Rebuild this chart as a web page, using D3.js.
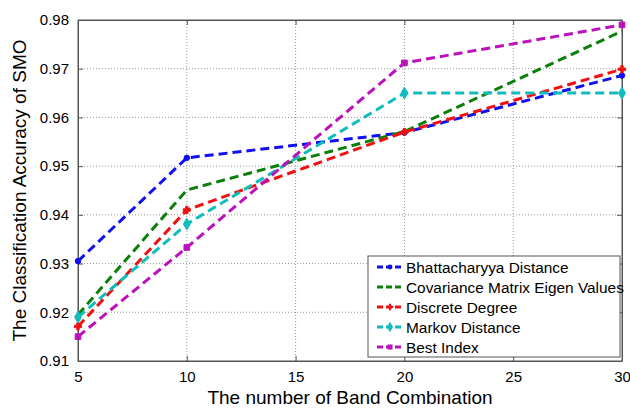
<!DOCTYPE html>
<html>
<head>
<meta charset="utf-8">
<script src="https://cdn.jsdelivr.net/npm/d3@7"></script>
<style>
  body { margin: 0; background: #fff; }
  svg text { font-family: Arial, "Liberation Sans", sans-serif; fill: #000; }
</style>
</head>
<body>
<div id="chart"></div>
<script>
//
// Chart data
//
const bandCounts = [5, 10, 20, 30]
const seriesNames = ['Bhattacharyya Distance', 'Covariance Matrix Eigen Values', 'Discrete Degree', 'Markov Distance', 'Best Index']
const bhattacharyya = [0.9305, 0.9517, 0.9569, 0.9686]
const covariance = [0.9195, 0.9451, 0.9571, 0.9777]
const discrete = [0.9171, 0.9410, 0.9570, 0.9699]
const markov = [0.9190, 0.9381, 0.9650, 0.9650]
const bestIndex = [0.9150, 0.9333, 0.9712, 0.9790]
const xTicks = [5, 10, 15, 20, 25, 30]
const yTicks = [0.91, 0.92, 0.93, 0.94, 0.95, 0.96, 0.97, 0.98]
const seriesColours = ['#1010f0', '#0a7f0a', '#f01010', '#10bcbc', '#bc10bc']
const seriesMarkers = ['circle', 'none', 'cross', 'diamond', 'square']

const width = 630
const height = 409
const margin = { top: 20, right: 8, bottom: 48, left: 78 }

const svg = d3.select('#chart').append('svg')
  .attr('width', width)
  .attr('height', height)

const x = d3.scaleLinear().domain([5, 30]).range([margin.left, width - margin.right])
const y = d3.scaleLinear().domain([0.91, 0.98]).range([height - margin.bottom, margin.top])

// grid lines
svg.append('g')
  .selectAll('line')
  .data(xTicks.slice(1, -1))
  .enter()
  .append('line')
    .attr('x1', d => x(d)).attr('x2', d => x(d))
    .attr('y1', y(0.91)).attr('y2', y(0.98))
    .attr('stroke', '#9a9a9a')
    .attr('stroke-width', 1)
    .attr('stroke-dasharray', '1,2')
svg.append('g')
  .selectAll('line')
  .data(yTicks.slice(1, -1))
  .enter()
  .append('line')
    .attr('x1', x(5)).attr('x2', x(30))
    .attr('y1', d => y(d)).attr('y2', d => y(d))
    .attr('stroke', '#9a9a9a')
    .attr('stroke-width', 1)
    .attr('stroke-dasharray', '1,2')

// axes
svg.append('g')
  .attr('transform', 'translate(0,' + y(0.91) + ')')
  .call(d3.axisBottom(x).tickValues(xTicks).tickSizeInner(-5).tickSizeOuter(0).tickPadding(10))
svg.append('g')
  .attr('transform', 'translate(' + x(5) + ',0)')
  .call(d3.axisLeft(y).tickValues(yTicks).tickFormat(d3.format('.2f')).tickSizeInner(-5).tickSizeOuter(0).tickPadding(9))
// top and right ticks
svg.append('g')
  .attr('transform', 'translate(0,' + y(0.98) + ')')
  .call(d3.axisTop(x).tickValues(xTicks).tickSizeInner(-5).tickSizeOuter(0).tickFormat(''))
svg.append('g')
  .attr('transform', 'translate(' + x(30) + ',0)')
  .call(d3.axisRight(y).tickValues(yTicks).tickSizeInner(-5).tickSizeOuter(0).tickFormat(''))
svg.selectAll('.domain').attr('stroke', '#555')
svg.selectAll('.tick line').attr('stroke', '#555')
svg.selectAll('.tick text').style('font-size', '15px')

// plot box
svg.append('rect')
  .attr('x', x(5)).attr('y', y(0.98))
  .attr('width', x(30) - x(5)).attr('height', y(0.91) - y(0.98))
  .attr('fill', 'none')
  .attr('stroke', '#555')
  .attr('stroke-width', 1)

// series lines
const allSeries = [bhattacharyya, covariance, discrete, markov, bestIndex].map((values, i) => {
  return { name: seriesNames[i], colour: seriesColours[i], marker: seriesMarkers[i],
    points: values.map((v, j) => ({ band: bandCounts[j], value: v })) }
})

const line = d3.line().x(d => x(d.band)).y(d => y(d.value))

function markerPath (type, size) {
  if (type === 'circle') return d3.symbol().type(d3.symbolCircle).size(size * 0.6)()
  if (type === 'cross') return d3.symbol().type(d3.symbolCross).size(size * 0.7)()
  if (type === 'diamond') return d3.symbol().type(d3.symbolDiamond).size(size)()
  if (type === 'square') return d3.symbol().type(d3.symbolSquare).size(size * 0.8)()
  return null
}

const seriesGroups = svg.append('g')
  .selectAll('g')
  .data(allSeries)
  .enter()
  .append('g')

seriesGroups.append('path')
  .attr('d', d => line(d.points))
  .attr('fill', 'none')
  .attr('stroke', d => d.colour)
  .attr('stroke-width', 3)
  .attr('stroke-dasharray', '9,5')

seriesGroups.filter(d => d.marker !== 'none')
  .selectAll('path.marker')
  .data(d => d.points.map(p => Object.assign({ colour: d.colour, marker: d.marker }, p)))
  .enter()
  .append('path')
    .attr('class', 'marker')
    .attr('transform', d => 'translate(' + x(d.band) + ',' + y(d.value) + ')')
    .attr('d', d => markerPath(d.marker, 40))
    .attr('fill', d => d.colour)
    .attr('stroke', d => d.colour)
    .attr('stroke-width', 1)

// axis titles
svg.append('text')
  .attr('x', (x(5) + x(30)) / 2)
  .attr('y', 404)
  .attr('text-anchor', 'middle')
  .style('font-size', '19px')
  .text('The number of Band Combination')
svg.append('text')
  .attr('transform', 'translate(26,' + (y(0.91) + y(0.98)) / 2 + ') rotate(-90)')
  .attr('text-anchor', 'middle')
  .style('font-size', '19px')
  .text('The Classification Accuracy of SMO')

// legend
const legend = svg.append('g').attr('transform', 'translate(368,256)')
legend.append('rect')
  .attr('width', 252).attr('height', 101)
  .attr('fill', '#fff')
  .attr('stroke', '#555')
  .attr('stroke-width', 1)
const legendRows = legend.selectAll('g.row')
  .data(allSeries)
  .enter()
  .append('g')
    .attr('class', 'row')
    .attr('transform', (d, i) => 'translate(0,' + (11 + i * 20) + ')')
legendRows.append('line')
  .attr('x1', 9).attr('x2', 35)
  .attr('stroke', d => d.colour)
  .attr('stroke-width', 3)
  .attr('stroke-dasharray', '6,3')
legendRows.filter(d => d.marker !== 'none')
  .append('path')
    .attr('transform', 'translate(22,0)')
    .attr('d', d => markerPath(d.marker, 32))
    .attr('fill', d => d.colour)
legendRows.append('text')
  .attr('x', 38)
  .attr('dy', '0.36em')
  .style('font-size', '15.4px')
  .text(d => d.name)
</script>
</body>
</html>
